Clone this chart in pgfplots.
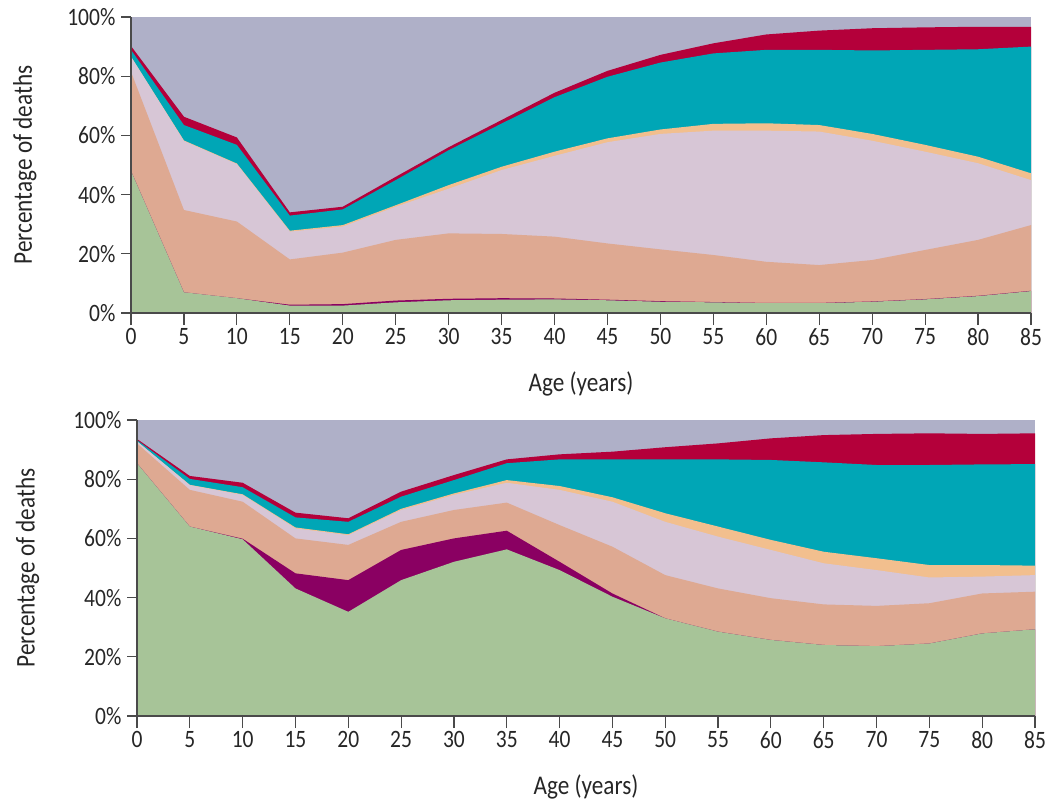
\documentclass[border=0pt]{standalone}
\usepackage{pgfplots}
\pgfplotsset{compat=1.18}
\usepackage{pgfplotstable}
\usepackage{fontspec}
\setmainfont{Carlito}[FakeStretch=0.86]
\definecolor{cgreen}{HTML}{A7C498}
\definecolor{cpurple}{HTML}{8A0062}
\definecolor{csalmon}{HTML}{DEA992}
\definecolor{cpink}{HTML}{D7C6D6}
\definecolor{corange}{HTML}{F2BF8E}
\definecolor{cteal}{HTML}{00A6B6}
\definecolor{ccrimson}{HTML}{B4003A}
\definecolor{cgrey}{HTML}{AFB0C8}
\definecolor{caxis}{HTML}{4A4A4A}

% cumulative upper boundary (%) of each cause group
\pgfplotstableread{
age green purple salmon pink orange teal crimson
0   48.0  48.0  81.5  86.6  86.6  88.9  90.2
5    7.0   7.0  34.8  58.1  58.3  63.5  66.3
10   5.0   5.0  30.9  50.3  50.5  56.8  59.3
15   2.5   2.8  18.1  27.5  27.8  32.9  34.0
20   2.5   3.0  20.4  29.2  29.7  35.0  35.9
25   3.6   4.2  24.7  35.9  36.4  44.9  46.0
30   4.3   4.8  26.9  42.0  43.2  55.0  56.0
35   4.5   5.0  26.7  48.3  49.4  64.0  65.2
40   4.6   4.9  25.8  53.1  54.5  72.9  74.4
45   4.3   4.5  23.5  57.7  59.0  79.8  81.8
50   3.8   4.0  21.5  60.5  62.0  84.6  87.2
55   3.6   3.7  19.6  61.6  63.9  87.7  91.1
60   3.3   3.4  17.3  61.6  64.1  88.9  94.1
65   3.3   3.4  16.2  61.3  63.5  88.9  95.4
70   3.8   3.9  17.9  58.2  60.5  88.7  96.2
75   4.6   4.7  21.3  54.5  56.8  88.9  96.5
80   5.7   5.8  24.7  50.6  52.8  89.1  96.7
85   7.4   7.5  29.7  44.9  47.2  90.0  96.7
}\topdata

\pgfplotstableread{
age green purple salmon pink orange teal crimson
0   85.4  85.4  92.1  92.8  92.8  93.2  93.6
5   64.0  64.0  76.4  78.0  78.1  80.1  81.1
10  59.7  59.9  72.4  74.7  74.9  77.3  78.8
15  43.1  48.2  60.0  63.4  63.7  67.1  68.7
20  35.2  45.9  57.8  61.1  61.4  65.6  66.8
25  45.9  56.1  65.6  69.6  70.0  74.1  75.8
30  52.1  60.0  69.6  74.7  75.2  79.7  81.4
35  56.3  62.6  72.1  78.8  79.7  85.4  86.7
40  49.3  52.1  64.5  76.4  77.7  86.7  88.4
45  40.3  41.4  57.2  72.4  73.9  86.7  89.3
50  33.0  33.0  47.6  65.6  68.5  86.7  90.8
55  28.5  28.5  43.1  60.6  64.0  86.7  92.1
60  25.7  25.7  39.8  56.1  59.5  86.5  93.8
65  24.0  24.0  37.7  51.6  55.5  85.7  94.9
70  23.6  23.6  37.2  49.3  53.3  84.8  95.3
75  24.5  24.5  38.1  46.8  51.0  84.8  95.5
80  27.9  27.9  41.4  47.1  51.0  85.0  95.3
85  29.3  29.3  42.0  47.6  50.8  85.1  95.5
}\botdata

\pgfplotsset{
  deathstyle/.style={
    scale only axis,
    height=148pt,
    xmin=0, xmax=85, ymin=0, ymax=100,
    axis lines=left,
    axis line style={-, draw=caxis, line width=0.6pt},
    axis on top,
    axis background/.style={fill=cgrey},
    tick align=outside,
    tick style={draw=caxis, line width=0.6pt},
    xtick={0,5,...,85},
    ytick={0,20,...,100},
    xtick style={/pgfplots/major tick length=6pt},
    ytick style={/pgfplots/major tick length=5pt},
    yticklabel={\pgfmathprintnumber{\tick}\%},
    /pgf/number format/assume math mode=true,
    ticklabel style={font=\fontsize{12.5}{14}\selectfont, text=black!85},
    label style={font=\fontsize{13.5}{15}\selectfont, text=black!85},
    xlabel={Age (years)},
    ylabel={Percentage of deaths},
    xlabel style={at={(axis description cs:0.5,-0.24)}, anchor=center},
  },
  area/.style={fill=#1, draw=none, line width=0pt},
}

\begin{document}
\begin{tikzpicture}
\path[use as bounding box] (0,0) rectangle (524pt,-401.5pt);

\begin{axis}[deathstyle, width=450pt, at={(65.5pt,-156.5pt)}, anchor=south west,
  ylabel style={at={(axis description cs:-0.118,0.5)}, anchor=center}]
  \addplot[area=ccrimson] table[x=age,y=crimson] {\topdata} \closedcycle;
  \addplot[area=cteal]    table[x=age,y=teal]    {\topdata} \closedcycle;
  \addplot[area=corange]  table[x=age,y=orange]  {\topdata} \closedcycle;
  \addplot[area=cpink]    table[x=age,y=pink]    {\topdata} \closedcycle;
  \addplot[area=csalmon]  table[x=age,y=salmon]  {\topdata} \closedcycle;
  \addplot[area=cpurple]  table[x=age,y=purple]  {\topdata} \closedcycle;
  \addplot[area=cgreen]   table[x=age,y=green]   {\topdata} \closedcycle;
\end{axis}

\begin{axis}[deathstyle, width=449pt, at={(68.5pt,-358pt)}, anchor=south west,
  ylabel style={at={(axis description cs:-0.122,0.5)}, anchor=center}]
  \addplot[area=ccrimson] table[x=age,y=crimson] {\botdata} \closedcycle;
  \addplot[area=cteal]    table[x=age,y=teal]    {\botdata} \closedcycle;
  \addplot[area=corange]  table[x=age,y=orange]  {\botdata} \closedcycle;
  \addplot[area=cpink]    table[x=age,y=pink]    {\botdata} \closedcycle;
  \addplot[area=csalmon]  table[x=age,y=salmon]  {\botdata} \closedcycle;
  \addplot[area=cpurple]  table[x=age,y=purple]  {\botdata} \closedcycle;
  \addplot[area=cgreen]   table[x=age,y=green]   {\botdata} \closedcycle;
\end{axis}
\end{tikzpicture}
\end{document}
